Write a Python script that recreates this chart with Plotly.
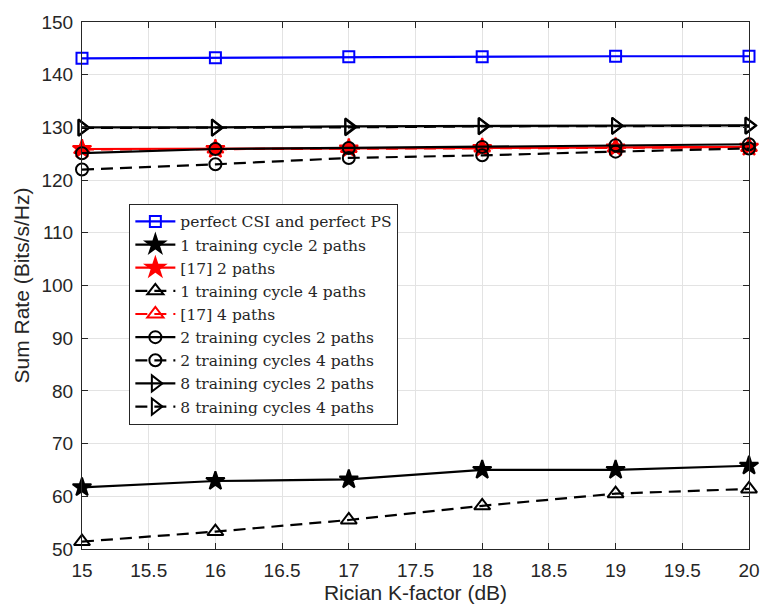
import plotly.graph_objects as go

k_factor = [15, 16, 17, 18, 19, 20]

perfect = [143.1, 143.2, 143.4, 143.4, 143.5, 143.5]
one_cycle_2p = [61.7, 62.9, 63.2, 65.0, 65.0, 65.8]
ref17_2p = [125.9, 125.9, 126.0, 126.1, 126.2, 126.3]
one_cycle_4p = [51.4, 53.3, 55.5, 58.2, 60.5, 61.4]
ref17_4p = [125.8, 125.9, 126.0, 126.1, 126.1, 126.2]
two_cycles_2p = [125.1, 125.9, 126.1, 126.3, 126.6, 126.8]
two_cycles_4p = [122.0, 123.0, 124.2, 124.7, 125.4, 126.0]
eight_cycles_2p = [130.0, 130.0, 130.2, 130.3, 130.3, 130.4]
eight_cycles_4p = [129.9, 129.9, 130.0, 130.2, 130.3, 130.3]

names = [
    "perfect CSI and perfect PS",
    "1 training cycle 2 paths",
    "[17] 2 paths",
    "1 training cycle 4 paths",
    "[17] 4 paths",
    "2 training cycles 2 paths",
    "2 training cycles 4 paths",
    "8 training cycles 2 paths",
    "8 training cycles 4 paths",
]
series = [perfect, one_cycle_2p, ref17_2p, one_cycle_4p, ref17_4p,
          two_cycles_2p, two_cycles_4p, eight_cycles_2p, eight_cycles_4p]
colors = ["#0000ff", "black", "#ff0000", "black", "#ff0000", "black", "black", "black", "black"]
symbols = ["square-open", "star", "star", "triangle-up-open", "triangle-up-open",
           "circle-open", "circle-open", "triangle-right-open", "triangle-right-open"]
dashes = ["solid", "solid", "solid", "12px,7px", "12px,7px", "solid", "12px,7px", "solid", "12px,7px"]
sizes = [11, 14, 14, 14, 14, 12, 12, 14, 14]

fig = go.Figure()
for n, s, c, sym, d, sz in zip(names, series, colors, symbols, dashes, sizes):
    fig.add_trace(go.Scatter(
        x=k_factor, y=s, name=n, mode="lines+markers",
        line=dict(color=c, width=2.2, dash=d),
        marker=dict(symbol=sym, size=sz, color=c, line=dict(color=c, width=2)),
        cliponaxis=False,
    ))

axis_common = dict(
    showline=True, linecolor="#262626", linewidth=1, mirror="ticks",
    ticks="inside", ticklen=6, tickcolor="#262626",
    showgrid=True, gridcolor="#e3e3e3", gridwidth=1, zeroline=False,
    tickfont=dict(family="Liberation Sans, Arial", size=19, color="#262626"),
)

fig.update_layout(
    width=772, height=615,
    margin=dict(l=82, r=13, t=15, b=66),
    plot_bgcolor="white", paper_bgcolor="white",
    xaxis=dict(range=[15, 20], dtick=0.5, ticklabelstandoff=4, **axis_common,
               title=dict(text="Rician K-factor (dB)", standoff=4,
                          font=dict(family="Liberation Sans, Arial", size=21, color="#262626"))),
    yaxis=dict(range=[50, 150], dtick=10, ticklabelstandoff=4, **axis_common,
               title=dict(text="Sum Rate (Bits/s/Hz)", standoff=6,
                          font=dict(family="Liberation Sans, Arial", size=21, color="#262626"))),
    legend=dict(
        x=0.071, y=0.655, xanchor="left", yanchor="top",
        bgcolor="white", bordercolor="#262626", borderwidth=1,
        font=dict(family="DejaVu Serif, Liberation Serif", size=15.5, color="#262626"),
        tracegroupgap=0, itemwidth=40,
    ),
    showlegend=True,
)

fig.write_html("out.html")
